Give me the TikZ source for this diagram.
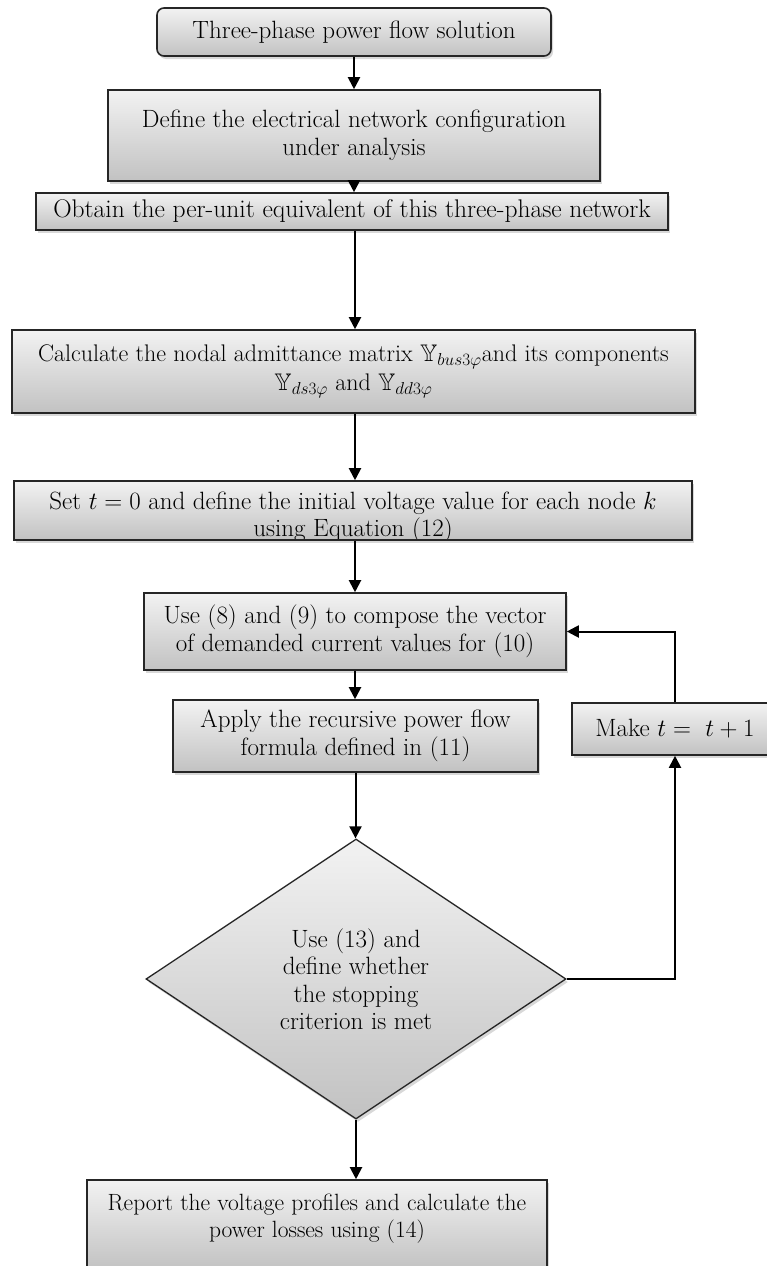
\documentclass[tikz,border=0pt]{standalone}
\usepackage{amssymb}
\usetikzlibrary{shapes.geometric,arrows.meta,shadows}
\begin{document}
\begin{tikzpicture}[x=1pt,y=-1pt,
  every node/.style={font=\fontsize{25}{27.5}\selectfont},
  shade/.style={top color=gray!10, bottom color=gray!48},
  shad/.style={drop shadow={shadow xshift=2pt,shadow yshift=-3pt,opacity=0.3}},
  box/.style={draw=black!85, line width=1.6pt, rectangle, shade, shad, align=center, inner sep=0pt},
  arr/.style={line width=2pt, -{Triangle[length=12pt,width=12pt]}},
  ]
\useasboundingbox[fill=white] (0,0) rectangle (766,1266);

\node[box, rounded corners=7pt, minimum width=394pt, minimum height=48pt] (start) at (354,32) {Three-phase power flow solution};
\node[box, minimum width=492pt, minimum height=91pt] (define) at (354,135.5) {Define the electrical network configuration\\under analysis};
\node[box, minimum width=632pt, minimum height=37pt, font=\fontsize{25.5}{27.5}\selectfont] (obtain) at (352,211.5) {Obtain the per-unit equivalent of this three-phase network};
\node[box, minimum width=683pt, minimum height=83pt, font=\fontsize{24}{29}\selectfont] (calc) at (353.5,371.5) {Calculate the nodal admittance matrix $\mathbb{Y}_{bus3\varphi}$and its components\\$\mathbb{Y}_{ds3\varphi}$ and $\mathbb{Y}_{dd3\varphi}$};
\node[box, minimum width=678pt, minimum height=59pt,
  path picture={\node[align=center] at ([yshift=-7pt]path picture bounding box.center) {Set $t = 0$ and define the initial voltage value for each node $k$\\using Equation (12)};}] (init) at (353,510.5) {};
\node[box, minimum width=422pt, minimum height=77pt] (use8) at (355,631.5) {Use (8) and (9) to compose the vector\\of demanded current values for (10)};
\node[box, minimum width=365pt, minimum height=72pt] (apply) at (355.5,736) {Apply the recursive power flow\\formula defined in (11)};
\node[box, minimum width=206pt, minimum height=52pt] (make) at (675,729) {Make $t =\ t+1$};
\node[diamond, draw=black!85, line width=1.3pt, shade, shad, aspect=1.5, minimum width=420pt, minimum height=280pt, inner sep=0pt, align=center] (dec) at (356,979) {Use (13) and\\define whether\\the stopping\\criterion is met};
\node[box, minimum width=460pt, minimum height=90pt,
  path picture={\node[align=center, font=\fontsize{23.5}{27}\selectfont] at ([yshift=6pt]path picture bounding box.center) {Report the voltage profiles and calculate the\\power losses using (14)};}] (report) at (317,1225) {};

\draw[arr] (start.south) -- (start.south |- define.north);
\draw[arr] (define.south) -- (define.south |- obtain.north);
\draw[arr] (obtain.south -| calc.north) ++(1.5,0) coordinate (o1) -- (o1 |- calc.north);
\draw[arr] (calc.south) ++(1.5,0) coordinate (c1) -- (c1 |- init.north);
\draw[arr] (init.south) ++(2,0) coordinate (i1) -- (i1 |- use8.north);
\draw[arr] (use8.south) -- (use8.south |- apply.north);
\draw[arr] (apply.south) -- (apply.south |- dec.north);
\draw[arr] (dec.south) -- (dec.south |- report.north);
\draw[arr] (dec.east) -| (make.south);
\draw[arr] (make.north) |- (use8.east);
\end{tikzpicture}
\end{document}
